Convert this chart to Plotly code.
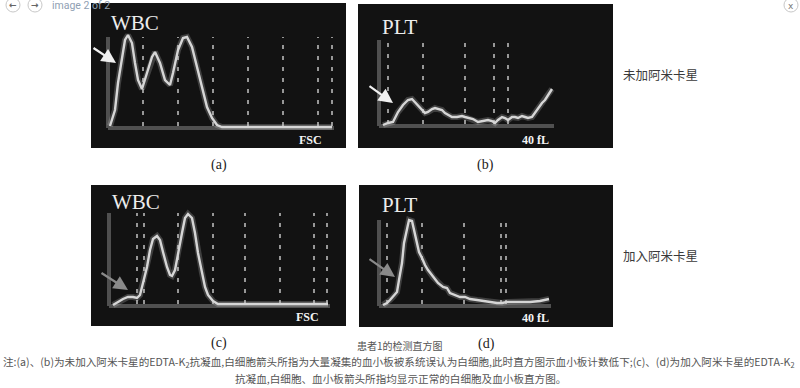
import plotly.graph_objects as go

W, H = 800, 388

# ---------------- data ----------------
# (a) WBC histogram, before amikacin
wbc_a_x = [2, 7, 10, 14, 17, 20, 24, 27, 30, 34, 39, 44, 47, 52, 57, 62, 65, 70, 75, 79, 84, 89, 94, 99, 104, 109, 114, 224]
wbc_a_y = [1, 17, 44, 70, 87, 92, 84, 64, 47, 38, 54, 70, 75, 64, 47, 42, 54, 77, 89, 90, 80, 60, 37, 20, 9, 2, 0, 0]
wbc_a_disc = [35, 70, 105, 140, 175, 210, 224]

# (b) PLT histogram, before amikacin
plt_b_x = [4, 9, 14, 19, 24, 29, 33, 36, 39, 43, 46, 49, 53, 56, 59, 63, 66, 69, 73, 78, 83, 86, 89, 94, 99, 104,
           109, 113, 116, 119, 123, 126, 129, 133, 136, 139, 143, 146, 149, 153, 156, 159, 163, 166, 169, 173]
plt_b_y = [0, 2, 3, 13, 20, 25, 26, 23, 19, 15, 12, 13, 16, 17, 16, 15, 12, 10, 8, 8, 9, 8, 7, 6, 3, 4,
           5, 4, 2, 5, 8, 7, 5, 8, 8, 7, 9, 8, 7, 8, 12, 17, 22, 25, 30, 36]
plt_b_disc = [9, 44, 86, 115, 129]

# (c) WBC histogram, after amikacin
wbc_c_x = [4, 9, 14, 19, 24, 28, 31, 34, 38, 41, 44, 48, 51, 54, 58, 61, 63, 66, 69, 73, 76, 79, 83, 86, 89, 93, 96,
           99, 104, 109, 114, 219]
wbc_c_y = [0, 3, 6, 8, 8, 7, 10, 22, 38, 55, 66, 69, 65, 53, 38, 30, 29, 35, 52, 72, 87, 91, 87, 72, 52, 32, 18,
           10, 4, 1, 1, 1]
wbc_c_disc = [28, 35, 69, 104, 136, 171, 205, 218]

# (d) PLT histogram, after amikacin
plt_d_x = [4, 8, 11, 14, 18, 20, 23, 25, 28, 30, 33, 35, 38, 40, 43, 46, 49, 54, 59, 64, 68, 71, 76, 81, 86, 91,
           98, 104, 111, 118, 123, 128, 138, 151, 161, 170]
plt_d_y = [0, 2, 5, 8, 13, 25, 42, 62, 78, 85, 84, 75, 62, 53, 47, 40, 35, 28, 22, 18, 17, 12, 10, 8, 8, 6,
           5, 4, 3, 2, 2, 3, 3, 3, 4, 6]
plt_d_disc = [8, 43, 85, 122, 127]

panel_titles = ["WBC", "PLT", "WBC", "PLT"]
axis_units = ["FSC", "40 fL", "FSC", "40 fL"]
panel_tags = ["(a)", "(b)", "(c)", "(d)"]
row_labels = ["未加阿米卡星", "加入阿米卡星"]
caption_title = "患者1的检测直方图"
note_line1 = ("注:(a)、(b)为未加入阿米卡星的EDTA-K<sub>2</sub>抗凝血,白细胞箭头所指为大量凝集的血小板被系统误认为白细胞,"
              "此时直方图示血小板计数低下;(c)、(d)为加入阿米卡星的EDTA-K<sub>2</sub>")
note_line2 = "抗凝血,白细胞、血小板箭头所指均显示正常的白细胞及血小板直方图。"
nav_text = "image 2 of 2"

# ---------------- layout helpers ----------------
def fx(p):
    return p / W

def fy(p):
    return 1 - p / H

# panel boxes in pixels: (left, right, top, bottom), origin pixel (x0, baseline)
boxes = [
    dict(l=91, r=346, t=3, b=148, ox=108, oy=127),
    dict(l=358, r=613, t=4, b=148, ox=379, oy=125),
    dict(l=91, r=346, t=185, b=326, ox=109, oy=305),
    dict(l=359, r=613, t=185, b=327, ox=379, oy=305),
]
curves = [(wbc_a_x, wbc_a_y, wbc_a_disc, 90), (plt_b_x, plt_b_y, plt_b_disc, 85),
          (wbc_c_x, wbc_c_y, wbc_c_disc, 92), (plt_d_x, plt_d_y, plt_d_disc, 85)]

fig = go.Figure()
layout = dict(
    width=W, height=H, margin=dict(l=0, r=0, t=0, b=0),
    paper_bgcolor="white", plot_bgcolor="#121212", showlegend=False,
)
annotations = []
shapes = []

CURVE = "#d6d6d6"
DASH = "#c4c4c4"
AXIS = "#505050"

for i, (bx, (cx, cy, disc, top)) in enumerate(zip(boxes, curves)):
    n = "" if i == 0 else str(i + 1)
    xa, ya = "x" + n, "y" + n
    layout["xaxis" + n] = dict(domain=[fx(bx["l"]), fx(bx["r"])],
                               range=[bx["l"] - bx["ox"], bx["r"] - bx["ox"]],
                               showgrid=False, zeroline=False, showticklabels=False, ticks="",
                               fixedrange=True, anchor=ya)
    layout["yaxis" + n] = dict(domain=[fy(bx["b"]), fy(bx["t"])],
                               range=[bx["oy"] - bx["b"], bx["oy"] - bx["t"]],
                               showgrid=False, zeroline=False, showticklabels=False, ticks="",
                               fixedrange=True, anchor=xa)
    xmax = max(cx)
    # baseline and left axis
    fig.add_trace(go.Scatter(x=[0, xmax + 2], y=[-1, -1], mode="lines", xaxis=xa, yaxis=ya,
                             line=dict(color=AXIS, width=4), hoverinfo="skip"))
    fig.add_trace(go.Scatter(x=[0, 0], y=[-1, top], mode="lines", xaxis=xa, yaxis=ya,
                             line=dict(color=AXIS, width=4), hoverinfo="skip"))
    # discriminator dashed lines
    dx, dy = [], []
    for d in disc:
        dx += [d, d, None]
        dy += [1, top, None]
    fig.add_trace(go.Scatter(x=dx, y=dy, mode="lines", xaxis=xa, yaxis=ya,
                             line=dict(color=DASH, width=1.5, dash="4px,7px"), hoverinfo="skip"))
    # glow + curve
    fig.add_trace(go.Scatter(x=cx, y=cy, mode="lines", xaxis=xa, yaxis=ya,
                             line=dict(color="rgba(200,200,200,0.25)", width=6), hoverinfo="skip"))
    fig.add_trace(go.Scatter(x=cx, y=cy, mode="lines", xaxis=xa, yaxis=ya,
                             line=dict(color=CURVE, width=2.4), hoverinfo="skip"))

    # panel title (WBC / PLT)
    annotations.append(dict(xref="paper", yref="paper",
                            x=fx(bx["ox"] + 1), y=fy(bx["t"] + (20 if i % 2 == 0 else 23) + (-3 if i >= 2 else 0)),
                            xanchor="left", yanchor="middle", showarrow=False, text=panel_titles[i],
                            font=dict(family="Liberation Serif", size=21, color="#ececec")))
    # unit label
    annotations.append(dict(xref="paper", yref="paper",
                            x=fx(bx["r"] - (22 if i % 2 == 0 else 62) - (3 if i == 2 else 0)),
                            y=fy(bx["b"] - (8 if i < 2 else 9)),
                            xanchor="right", yanchor="middle", showarrow=False, text="<b>%s</b>" % axis_units[i],
                            font=dict(family="Liberation Serif", size=12, color="#f4f4f4")))
    # panel tag below
    annotations.append(dict(xref="paper", yref="paper",
                            x=fx((bx["l"] + bx["r"]) / 2), y=fy(bx["b"] + 17),
                            xanchor="center", yanchor="middle", showarrow=False, text=panel_tags[i],
                            font=dict(family="Liberation Serif", size=14, color="#222222")))

# arrows (tip at the data point, tail offset in pixels)
arrow_specs = [
    ("x", "y", 8, 64, -24, -16, "#f0f0f0"),
    ("x2", "y2", 14, 22, -25, -18, "#f0f0f0"),
    ("x3", "y3", 19, 15, -28, -18, "#8a8a8a"),
    ("x4", "y4", 16, 28, -27, -19, "#8a8a8a"),
]
for xa, ya, tx, ty, ax, ay, col in arrow_specs:
    annotations.append(dict(xref=xa, yref=ya, x=tx, y=ty, ax=ax, ay=ay, axref="pixel", ayref="pixel",
                            text="", showarrow=True, arrowhead=2, arrowsize=1.3, arrowwidth=2.2,
                            arrowcolor=col, standoff=0))

# right-side row labels
for lab, yp in zip(row_labels, [75, 255]):
    annotations.append(dict(xref="paper", yref="paper", x=fx(621), y=fy(yp), xanchor="left", yanchor="middle",
                            showarrow=False, text=lab,
                            font=dict(family="Noto Sans CJK SC", size=12.5, color="#3a3a3a")))

# caption texts
annotations.append(dict(xref="paper", yref="paper", x=0.5, y=fy(345), xanchor="center", yanchor="middle",
                        showarrow=False, text=caption_title,
                        font=dict(family="Noto Sans CJK SC", size=10, color="#555555")))
annotations.append(dict(xref="paper", yref="paper", x=fx(1), y=fy(362), xanchor="left", yanchor="middle",
                        showarrow=False, text=note_line1,
                        font=dict(family="Noto Sans CJK SC", size=10.6, color="#555555")))
annotations.append(dict(xref="paper", yref="paper", x=0.5, y=fy(378), xanchor="center", yanchor="middle",
                        showarrow=False, text=note_line2,
                        font=dict(family="Noto Sans CJK SC", size=10.6, color="#555555")))

# top navigation bar
for cxp, glyph in [(13, "←"), (35, "→")]:
    shapes.append(dict(type="circle", xref="paper", yref="paper", x0=fx(cxp - 7), x1=fx(cxp + 7),
                       y0=fy(5 + 7), y1=fy(5 - 7), line=dict(color="#c8c8c8", width=1), fillcolor="white"))
    annotations.append(dict(xref="paper", yref="paper", x=fx(cxp), y=fy(5), xanchor="center", yanchor="middle",
                            showarrow=False, text="<b>%s</b>" % glyph,
                            font=dict(family="DejaVu Sans", size=9, color="#666666")))
shapes.append(dict(type="circle", xref="paper", yref="paper", x0=fx(784), x1=fx(798),
                   y0=fy(12), y1=fy(-2), line=dict(color="#c8c8c8", width=1), fillcolor="white"))
annotations.append(dict(xref="paper", yref="paper", x=fx(791), y=fy(6), xanchor="center", yanchor="middle",
                        showarrow=False, text="x", font=dict(family="DejaVu Sans", size=9, color="#777777")))
annotations.append(dict(xref="paper", yref="paper", x=fx(50), y=fy(6), xanchor="left", yanchor="middle",
                        showarrow=False, text=nav_text,
                        font=dict(family="Roboto", size=10.5, color="#8fa0b3")))

layout["annotations"] = annotations
layout["shapes"] = shapes
fig.update_layout(**layout)
fig.write_html("out.html", config={"displayModeBar": False},
               post_script="document.body.style.margin='0';document.body.style.overflow='hidden';")
